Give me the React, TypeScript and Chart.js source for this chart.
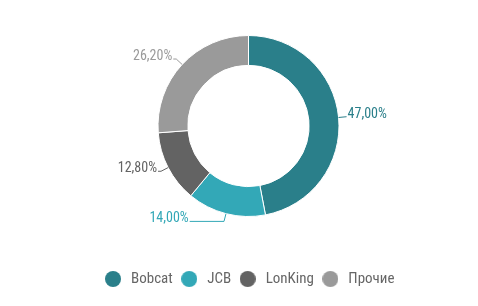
import React, { useEffect, useRef } from "react";
import { Chart, registerables } from "chart.js";

Chart.register(...registerables);

const categories = ["Bobcat", "JCB", "LonKing", "Прочие"];
const shares = [47.0, 14.0, 12.8, 26.2];
const colors = ["#2a7f8a", "#33a8b7", "#636363", "#9a9a9a"];

const FONT = "'Roboto Condensed', sans-serif";

function fmt(v: number) {
  return v.toFixed(2).replace(".", ",") + "%";
}

function circleImage(color: string, d: number) {
  const c = document.createElement("canvas");
  c.width = d;
  c.height = d;
  const g = c.getContext("2d")!;
  g.fillStyle = color;
  g.beginPath();
  g.arc(d / 2, d / 2, d / 2, 0, Math.PI * 2);
  g.fill();
  return c;
}

const labelPlugin = {
  id: "outLabels",
  afterDatasetsDraw(chart: any) {
    const ctx = chart.ctx as CanvasRenderingContext2D;
    const meta = chart.getDatasetMeta(0);
    ctx.save();
    ctx.font = `14px ${FONT}`;
    ctx.textBaseline = "alphabetic";
    meta.data.forEach((arc: any, i: number) => {
      const { x, y, startAngle, endAngle, outerRadius } = arc.getProps(
        ["x", "y", "startAngle", "endAngle", "outerRadius"],
        true
      );
      const mid = (startAngle + endAngle) / 2;
      const cos = Math.cos(mid);
      const sin = Math.sin(mid);
      const p1x = x + cos * outerRadius;
      const p1y = y + sin * outerRadius;
      const p2x = x + cos * (outerRadius + 8);
      const p2y = y + sin * (outerRadius + 8);
      const side = cos >= 0 ? 1 : -1;
      const minDist = outerRadius * 0.65;
      const dist = Math.max(Math.abs(p2x - x) + (side > 0 ? 0 : 3), minDist);
      const p3x = x + side * dist;
      ctx.strokeStyle = colors[i];
      ctx.lineWidth = 1;
      ctx.beginPath();
      ctx.moveTo(p1x, p1y);
      ctx.lineTo(p2x, p2y);
      ctx.lineTo(p3x, p2y);
      ctx.stroke();
      ctx.fillStyle = colors[i];
      ctx.textAlign = side > 0 ? "left" : "right";
      ctx.fillText(fmt(shares[i]), p3x + side * 1, p2y + 1);
    });
    ctx.restore();
  },
};

export default function App() {
  const ref = useRef<HTMLCanvasElement>(null);
  useEffect(() => {
    document.body.style.margin = "0";
    const chart = new Chart(ref.current!, {
      type: "doughnut",
      data: {
        labels: categories,
        datasets: [
          {
            data: shares,
            backgroundColor: colors,
            borderColor: "#ffffff",
            borderWidth: 1,
            hoverOffset: 0,
          },
        ],
      },
      options: {
        responsive: false,
        animation: false,
        cutout: "67%",
        layout: { padding: { top: 35, bottom: 9.5, left: 19, right: 0 } },
        plugins: {
          tooltip: { enabled: false },
          legend: {
            position: "bottom",
            title: {
              display: true,
              text: "",
              font: { size: 10, lineHeight: 1.2 },
              padding: { top: 36.5, bottom: 0 },
            },
            labels: {
              usePointStyle: true,
              pointStyleWidth: 21,
              padding: 6,
              color: "#4e4e58",
              font: { family: FONT, size: 15 },
              generateLabels: () =>
                categories.map((c, i) => ({
                  text: c,
                  fillStyle: colors[i],
                  strokeStyle: colors[i],
                  lineWidth: 0,
                  pointStyle: circleImage(colors[i], 16),
                  hidden: false,
                  index: i,
                  datasetIndex: 0,
                })) as any,
            },
          },
        },
      },
      plugins: [labelPlugin],
    });
    return () => chart.destroy();
  }, []);
  return (
    <div style={{ position: "absolute", left: 0, top: 0, width: 478, height: 306, background: "#fff" }}>
      <canvas ref={ref} width={478} height={306} />
    </div>
  );
}
